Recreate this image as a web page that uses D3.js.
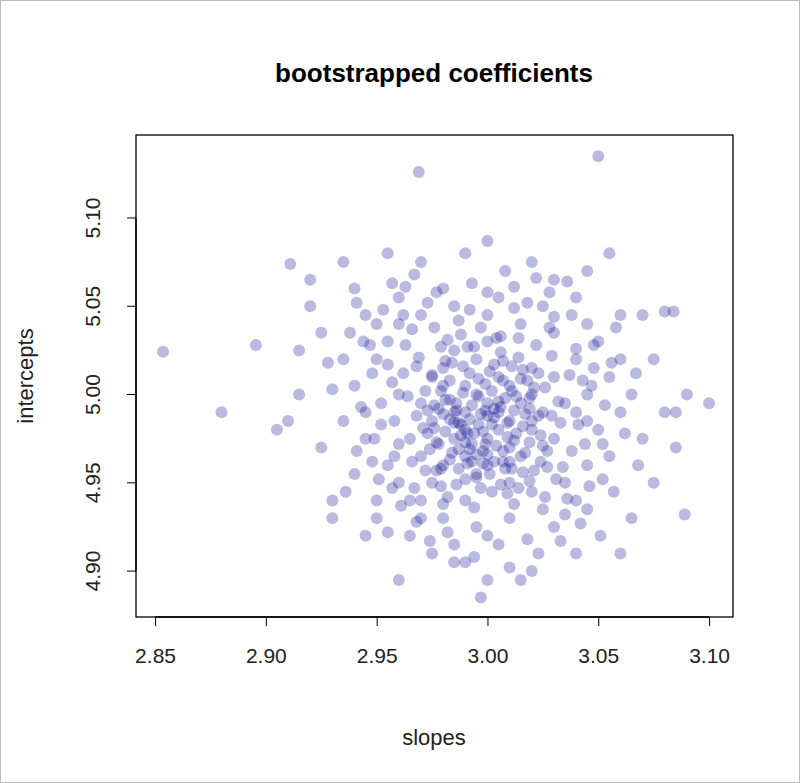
<!DOCTYPE html>
<html><head><meta charset="utf-8">
<script src="https://cdn.jsdelivr.net/npm/d3@7"></script>
<style>body{margin:0;background:#fff}svg{display:block;font-family:"Liberation Sans",Arial,sans-serif}</style>
</head><body><svg id="c" width="800" height="783"></svg>
<script>
const title = "bootstrapped coefficients";
const xLabel = "slopes", yLabel = "intercepts";
const xTicks = [2.85, 2.90, 2.95, 3.00, 3.05, 3.10];
const yTicks = [4.90, 4.95, 5.00, 5.05, 5.10];
const slopes = [
2.985,2.99,3.00,3.005,2.995,2.98,3.01,3.015,2.975,2.99,3.00,3.01,3.02,2.97,2.98,2.995,3.005,3.02,3.025,2.965,2.985,3.0,2.99,3.01,2.975,3.015,2.995,2.98,3.03,3.03,2.96,2.97,3.005,2.99,3.02,2.985,3.0,2.975,3.01,3.035,
2.988,2.993,3.003,2.978,3.008,2.998,2.983,3.013,2.968,3.023,2.992,3.002,2.973,3.018,2.987,3.007,2.962,3.027,2.997,2.982,
2.95,2.945,2.955,2.95,2.96,2.97,2.985,3.0,3.015,3.03,3.04,3.045,3.05,3.045,3.04,3.025,3.01,2.995,2.98,2.965,2.955,2.94,2.945,2.96,3.055,3.05,3.035,3.02,2.99,2.97,2.96,2.98,3.005,3.025,3.045,3.06,3.055,3.045,3.03,3.005,2.985,2.965,2.95,2.94,2.935,2.935,2.945,3.06,3.065,3.04,
2.92,2.915,2.925,2.93,2.91,2.925,2.935,2.955,2.99,3.0,3.02,3.045,3.055,3.07,3.075,3.08,3.085,3.08,3.09,3.075,3.065,3.04,3.02,3.0,2.99,2.975,2.96,2.945,2.93,2.915,2.905,2.92,2.97,3.03,3.06,3.07,3.085,3.06,3.015,2.94,
2.8536,2.880,2.8955,2.911,2.969,3.05,3.10,2.997,3.089,3.084,
2.972,2.981,2.989,2.996,3.004,3.012,3.019,3.026,3.033,2.966,2.977,2.986,2.994,3.001,3.009,3.016,3.024,3.031,3.038,2.969,2.979,2.988,2.997,3.006,3.014,3.022,3.029,3.037,2.958,2.963,2.974,2.983,2.991,2.999,3.006,3.011,3.017,3.024,3.032,3.041,2.976,2.984,2.993,3.002,3.009,3.014,3.021,3.028,2.967,2.987,2.994,3.003,3.012,2.979,2.957,3.043,3.036,2.961,2.998,2.986,3.006,2.992,3.0,2.981,3.016,2.99,2.996,3.007,2.976,3.019,
2.948,2.952,2.957,2.941,2.953,2.963,2.977,2.993,3.012,3.028,3.038,3.048,3.053,3.052,3.046,3.033,3.018,3.0,2.982,2.968,2.951,2.943,2.938,2.947,3.058,3.062,3.057,3.042,3.023,2.994,2.974,2.955,2.936,2.93,2.928,2.941,2.967,3.008,3.036,3.067,3.068,3.051,2.952,2.948,3.045,3.048,2.985,3.01,2.957,3.022,
2.971,2.975,2.979,2.983,2.987,2.991,2.995,2.999,3.003,3.007,3.011,3.015,3.019,3.023,3.027,
2.973,2.977,2.981,2.985,2.989,2.993,2.997,3.001,3.005,3.009,3.013,3.017,3.021,3.025,3.029,
2.964,2.968,2.972,2.976,2.98,2.984,2.988,2.992,2.996,3.0,3.004,3.008,3.012,3.016,3.02,
2.978,2.982,2.986,2.99,2.994,2.998,3.002,3.006,3.01,3.014,2.96,3.034,3.04,2.955,3.03,
2.983,2.991,2.999,3.007,2.987,2.995,3.003,3.011,2.979,3.019,2.966,3.044,2.97,3.026,2.992,
2.949,2.958,3.047,3.052,2.962,3.056,2.944,2.973,3.012,3.035,2.98,3.0,3.018,2.95,3.04];
const intercepts = [
4.99,4.98,4.975,4.99,5.00,5.005,4.985,4.995,4.985,4.965,4.96,4.97,4.98,4.995,5.015,5.02,5.01,5.00,4.99,4.975,4.975,4.995,4.99,5.005,5.01,4.965,4.955,4.96,4.975,5.01,5.0,4.965,4.98,5.005,5.015,5.025,5.03,4.95,4.95,4.995,
4.983,4.972,4.987,4.992,4.998,4.968,5.008,4.978,4.988,4.988,5.012,5.002,4.978,5.008,4.958,4.962,5.012,4.968,4.947,4.942,
5.02,4.99,4.96,4.94,5.04,5.045,5.05,5.045,5.04,5.035,5.02,5.0,4.98,4.96,4.94,4.935,4.93,4.925,4.93,4.94,5.03,5.005,4.975,4.95,5.01,5.03,4.95,4.945,4.94,4.93,5.055,5.06,5.055,5.05,5.04,4.99,4.965,4.935,4.925,4.915,4.915,4.92,4.93,4.955,4.985,5.02,5.045,5.02,5.0,5.055,
5.05,5.0,4.97,4.94,4.985,5.035,5.075,5.08,5.08,5.087,5.075,5.07,5.08,5.045,5.02,4.99,4.97,5.047,5.0,4.95,4.93,4.91,4.9,4.895,4.905,4.91,4.895,4.92,4.93,5.025,4.98,5.065,5.075,5.065,5.045,4.975,4.99,4.91,4.895,5.06,
5.0243,4.990,5.028,5.074,5.126,5.135,4.995,4.885,4.932,5.047,
5.002,4.997,5.016,4.983,4.971,4.991,4.973,5.004,4.984,4.962,4.957,4.949,4.978,4.955,4.944,4.956,4.962,4.952,4.968,5.021,5.027,5.034,5.038,5.024,5.021,5.028,5.022,5.011,4.985,5.028,4.969,4.986,4.961,4.991,4.949,5.016,4.989,4.977,4.996,4.983,5.038,4.967,4.994,4.983,4.976,5.032,4.957,5.038,4.947,5.042,4.936,5.017,4.938,4.948,5.007,5.008,4.941,4.937,4.979,4.995,4.993,4.986,4.988,4.979,4.982,4.973,5.009,5.008,4.994,4.998,
5.012,4.983,4.947,4.968,5.048,5.061,5.058,5.063,5.061,5.058,5.045,5.015,4.994,4.952,4.948,4.917,4.918,4.92,4.922,4.928,4.952,4.993,5.035,5.028,5.038,4.978,4.945,4.927,4.91,4.908,4.917,4.922,4.945,5.003,5.018,5.052,5.068,5.07,5.064,5.012,4.96,4.92,4.995,4.962,4.985,5.028,4.905,4.902,5.063,5.066,
4.981,5.011,4.958,4.997,4.969,5.027,4.953,5.006,4.962,5.019,4.958,5.009,4.951,5.012,4.959,
4.991,4.973,5.019,4.984,5.001,4.962,4.989,5.013,4.996,4.984,4.999,4.967,5.004,4.971,4.988,
4.999,5.016,4.957,4.981,4.989,5.018,4.977,4.969,4.999,4.966,5.032,4.958,4.974,5.014,4.985,
4.972,5.031,4.991,4.952,5.027,4.961,4.945,5.033,4.962,4.947,4.972,4.959,5.026,5.017,5.044,
4.963,4.978,4.972,4.968,4.984,4.966,4.992,5.002,5.002,4.992,5.037,4.972,4.94,4.942,5.048,
4.975,4.965,5.005,4.972,5.045,5.018,5.03,5.052,5.049,4.932,4.938,5.058,5.052,5.04,4.99];

const svg = d3.select("#c");
svg.append("rect").attr("x",0.5).attr("y",0.5).attr("width",799).attr("height",782).attr("fill","#fff").attr("stroke","#bbb");
const L=136,R=733,T=135,B=617;
const x = d3.scaleLinear().domain([2.8414,3.1108]).range([L,R]);
const y = d3.scaleLinear().domain([4.874,5.147]).range([B,T]);

svg.append("g").selectAll("circle").data(slopes.map((s,i)=>[s,intercepts[i]])).join("circle")
  .attr("cx",d=>x(d[0])).attr("cy",d=>y(d[1])).attr("r",6)
  .attr("fill","#00008B").attr("fill-opacity",0.27);

svg.append("rect").attr("x",L).attr("y",T).attr("width",R-L).attr("height",B-T).attr("fill","none").attr("stroke","#000").attr("stroke-width",1.3);

const xa = svg.append("g").attr("transform",`translate(0,${B})`)
  .call(d3.axisBottom(x).tickValues(xTicks).tickFormat(d3.format(".2f")).tickSize(9).tickPadding(22));
xa.select(".domain").attr("d",`M${x(2.85)},0H${x(3.10)}`).attr("stroke-width",1.3);
xa.selectAll("text").attr("font-size",21).attr("fill","#222").attr("font-family","Liberation Sans, Arial");
const ya = svg.append("g").attr("transform",`translate(${L},0)`)
  .call(d3.axisLeft(y).tickValues(yTicks).tickFormat(d3.format(".2f")).tickSize(9));
ya.select(".domain").attr("d",`M0,${y(4.90)}V${y(5.10)}`).attr("stroke-width",1.3);
ya.selectAll("text").attr("font-size",21).attr("fill","#222").attr("font-family","Liberation Sans, Arial")
  .attr("transform",null).attr("x",null).attr("dy",null)
  .attr("text-anchor","middle")
  .attr("transform",d=>`translate(-36,${y(d)}) rotate(-90)`).attr("y",0);
ya.selectAll(".tick").attr("transform",null);
ya.selectAll(".tick line").attr("y1",d=>y(d)).attr("y2",d=>y(d));

svg.append("text").attr("x",434).attr("y",82).attr("text-anchor","middle").attr("font-size",26).attr("font-weight","bold").text(title);
svg.append("text").attr("x",434).attr("y",745).attr("text-anchor","middle").attr("font-size",22).attr("fill","#222").text(xLabel);
svg.append("text").attr("transform","translate(33,376) rotate(-90)").attr("text-anchor","middle").attr("font-size",22).attr("fill","#222").text(yLabel);
</script></body></html>
